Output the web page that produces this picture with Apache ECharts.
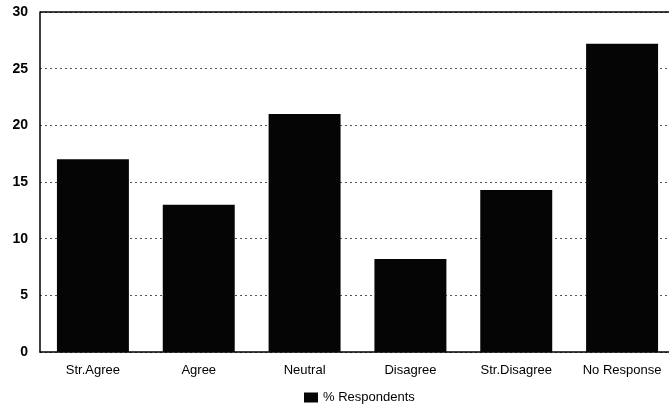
<!DOCTYPE html>
<html>
<head>
<meta charset="utf-8">
<script src="https://cdn.jsdelivr.net/npm/echarts@6/dist/echarts.min.js"></script>
<style>
  html, body { margin: 0; padding: 0; background: #fff; overflow: hidden; }
  #chart { width: 675px; height: 414px; }
</style>
</head>
<body>
<div id="chart"></div>
<script>
const categories = ['Str.Agree', 'Agree', 'Neutral', 'Disagree', 'Str.Disagree', 'No Response']
const respondents = [17, 13, 21, 8.2, 14.3, 27.2]
const SERIES_NAME = '% Respondents'

// plot runs a few px past the right edge of the window, as in the scan
const chart = echarts.init(document.getElementById('chart'))
chart.setOption({
  animation: false,
  textStyle: { fontFamily: 'Liberation Sans, Arial, sans-serif' },
  legend: {
    bottom: 5,
    left: 299,
    icon: 'rect',
    itemWidth: 14,
    itemHeight: 10,
    itemGap: 3,
    textStyle: { color: '#000', fontSize: 13, letterSpacing: -0.4 },
    data: [SERIES_NAME],
  },
  grid: {
    left: 40,
    right: 0,
    top: 12,
    bottom: 62,
  },
  xAxis: {
    type: 'category',
    data: categories,
    axisLine: { lineStyle: { color: '#000', width: 1.5 } },
    axisTick: { show: false },
    axisLabel: {
      color: '#000',
      fontSize: 13,
      margin: 12,
      letterSpacing: -0.5,
    },
  },
  yAxis: {
    type: 'value',
    min: 0,
    max: 30,
    interval: 5,
    axisLine: { show: true, lineStyle: { color: '#000', width: 1.5 } },
    axisTick: { show: false },
    axisLabel: {
      color: '#000',
      fontSize: 14,
      fontWeight: 'bold',
      margin: 12,
    },
    splitLine: {
      show: true,
      lineStyle: { color: '#555', type: [2, 3], width: 1 },
    },
  },
  series: [
    {
      name: SERIES_NAME,
      type: 'bar',
      data: respondents,
      barCategoryGap: '32%',
      itemStyle: { color: '#050505' },
    },
    {
      type: 'line',
      data: [],
      markLine: {
        silent: true,
        symbol: 'none',
        label: { show: false },
        lineStyle: { color: '#000', type: 'solid', width: 1.5 },
        data: [{ yAxis: 30 }],
      },
    },
  ],
})
</script>
</body>
</html>
